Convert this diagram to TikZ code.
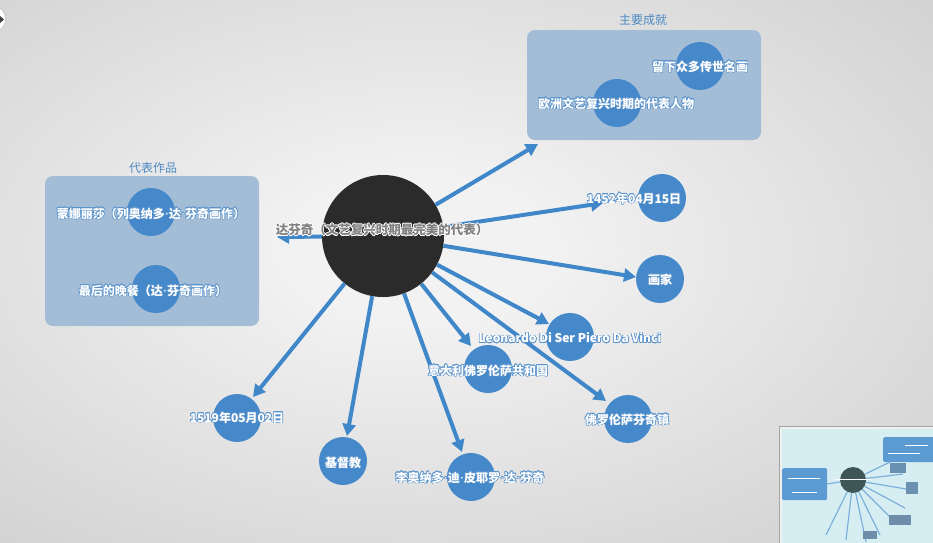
\documentclass[tikz,border=0pt]{standalone}
\usepackage{fontspec}
\setmainfont{Noto Sans CJK SC}
\newfontfamily\latinfont{Noto Sans}
\newcommand{\md}{{\latinfont\hspace{0.5pt}·\hspace{0.5pt}}}
\usepackage{contour}
\contourlength{0.55pt}
\usetikzlibrary{arrows.meta}
\definecolor{bubble}{HTML}{4589CB}
\definecolor{arrowblue}{HTML}{3F87C9}
\definecolor{groupfill}{HTML}{A3BDD7}
\definecolor{titleblue}{HTML}{4C8AC4}
\definecolor{core}{HTML}{2B2B2B}
\definecolor{halo}{HTML}{5A93CB}
\definecolor{bgin}{HTML}{F2F2F2}
\definecolor{bgout}{HTML}{BEBEBE}
\definecolor{minibg}{HTML}{D6EEF2}
\definecolor{minibox}{HTML}{5B9BD2}
\definecolor{minicore}{HTML}{3E5656}
\pgfdeclareradialshading{bgshade}{\pgfpoint{0bp}{0bp}}{color(0bp)=(bgin); color(6bp)=(bgin); color(50bp)=(bgout); color(80bp)=(bgout)}
\tikzset{
  corenode/.style={circle, fill=core, minimum size=122pt, inner sep=0pt},
  bub/.style={circle, fill=bubble, minimum size=48pt, inner sep=0pt},
  lbl/.style={text=white, inner sep=1pt, font=\fontsize{12}{14}\selectfont\bfseries},
  ctext/.style={text=black!50, inner sep=1pt, font=\fontsize{12.5}{14}\selectfont\bfseries},
  grp/.style={rounded corners=8pt, fill=groupfill, inner sep=0pt},
  gtitle/.style={text=titleblue, inner sep=1pt, font=\fontsize{12}{14}\selectfont},
  arr/.style={line width=4pt, draw=arrowblue, -{Triangle[length=12pt,width=13pt]}},
  miniarr/.style={line width=1.2pt, draw=minibox!80!white},
}
\begin{document}
\begin{tikzpicture}[x=1pt,y=-1pt]
\useasboundingbox (0,0) rectangle (933,542);
\begin{scope}
\clip (0,0) rectangle (933,542);
\shade[shading=bgshade] (-93,-42) rectangle (933,542);

% navigation button
\node[circle, fill=white, draw=black!30, minimum size=27pt, inner sep=0pt] (nav) at (-8,19) {};
\fill[black!75] (0,16) -- (4,19.5) -- (0,23) -- cycle;

% groups
\node[grp, minimum width=214pt, minimum height=150pt] (g1) at (152,251) {};
\node[gtitle] (g1t) at (153,168) {代表作品};
\node[grp, minimum width=234pt, minimum height=110pt] (g2) at (644,85) {};
\node[gtitle] (g2t) at (643,20) {主要成就};

% core
\node[corenode] (c) at (383,236) {};

% arrow tips
\coordinate (t1) at (277,237);
\coordinate (t2) at (538,144);
\coordinate (t3) at (603,203);
\coordinate (t4) at (636,277);
\coordinate (t5) at (549,324);
\coordinate (t6) at (471,346);
\coordinate (t7) at (606,401);
\coordinate (t8) at (253,397);
\coordinate (t9) at (347,436);
\coordinate (t10) at (462,452);
\foreach \t in {t1,t2,t3,t4,t5,t6,t7,t8,t9,t10} \draw[arr] (c) -- (\t);

% bubbles
\node[bub] (b1) at (151,212) {};
\node[bub] (b2) at (156,289) {};
\node[bub] (b3) at (700,66) {};
\node[bub] (b4) at (617,103) {};
\node[bub] (b5) at (662,198) {};
\node[bub] (b6) at (660,279) {};
\node[bub] (b7) at (570,337) {};
\node[bub] (b8) at (488,369) {};
\node[bub] (b9) at (628,419) {};
\node[bub] (b10) at (237,418) {};
\node[bub] (b11) at (343,461) {};
\node[bub] (b12) at (471,477) {};

% labels
\node[lbl] (l1) at (151,214) {\contour{halo}{蒙娜丽莎（列奥纳多\md 达\md 芬奇画作）}};
\node[lbl] (l2) at (153,291) {\contour{halo}{最后的晚餐（达\md 芬奇画作）}};
\node[lbl] (l3) at (700,67) {\contour{halo}{留下众多传世名画}};
\node[lbl] (l4) at (616,104) {\contour{halo}{欧洲文艺复兴时期的代表人物}};
\node[lbl] (l5) at (634,199) {\contour{halo}{1452年04月15日}};
\node[lbl] (l6) at (660,280) {\contour{halo}{画家}};
\node[lbl] (l7) at (570,338) {\contour{halo}{Leonardo Di Ser Piero Da Vinci}};
\node[lbl] (l8) at (488,371) {\contour{halo}{意大利佛罗伦萨共和国}};
\node[lbl] (l9) at (627,420) {\contour{halo}{佛罗伦萨芬奇镇}};
\node[lbl] (l10) at (237,418) {\contour{halo}{1519年05月02日}};
\node[lbl] (l11) at (343,463) {\contour{halo}{基督教}};
\node[lbl] (l12) at (470,478) {\contour{halo}{李奥纳多\md 迪\md 皮耶罗\md 达\md 芬奇}};
\node[ctext] (ct) at (382,230) {\contour{white}{达芬奇（文艺复兴时期最完美的代表）}};

% minimap
\node[draw=black!35, fill=black!6, line width=1pt, minimum width=160pt, minimum height=122pt, inner sep=0pt, anchor=north west] (mm) at (779,426) {};
\node[fill=minibg, minimum width=154pt, minimum height=116pt, inner sep=0pt, anchor=north west] (mmin) at (782,429) {};
\node[circle, fill=minicore, minimum size=26pt, inner sep=0pt] (mc) at (853,480) {};
\node[fill=minibox, minimum width=45pt, minimum height=32pt, inner sep=0pt, rounded corners=1.5pt, anchor=north west] (mb1) at (782,468) {};
\node[fill=minibox, minimum width=52pt, minimum height=25pt, inner sep=0pt, rounded corners=1.5pt, anchor=north west] (mb2) at (883,437) {};
\coordinate (m1) at (890,462);
\coordinate (m2) at (903,474);
\coordinate (m3) at (912,490);
\coordinate (m4) at (905,508);
\coordinate (m5) at (895,522);
\coordinate (m6) at (880,535);
\coordinate (m7) at (866,542);
\coordinate (m8) at (846,540);
\coordinate (m9) at (826,535);
\coordinate (m10) at (827,484);
\foreach \m in {m1,m2,m3,m4,m5,m6,m7,m8,m9,m10} \draw[miniarr] (mc) -- (\m);
\node[fill=minibox!60!gray, minimum width=16pt, minimum height=10pt, inner sep=0pt] (ms1) at (898,468) {};
\node[fill=minibox!60!gray, minimum width=12pt, minimum height=12pt, inner sep=0pt] (ms2) at (912,488) {};
\node[fill=minibox!50!gray, minimum width=22pt, minimum height=10pt, inner sep=0pt] (ms3) at (900,520) {};
\node[fill=minibox!50!gray, minimum width=14pt, minimum height=8pt, inner sep=0pt] (ms4) at (870,535) {};
\fill[white] (788,478) rectangle (820,479.2);
\fill[white] (792,492) rectangle (817,493.2);
\fill[white] (905,445) rectangle (928,446.2);
\fill[white] (888,453) rectangle (920,454.2);
\fill[white] (835,479) rectangle (871,480.2);
\end{scope}
\end{tikzpicture}
\end{document}
